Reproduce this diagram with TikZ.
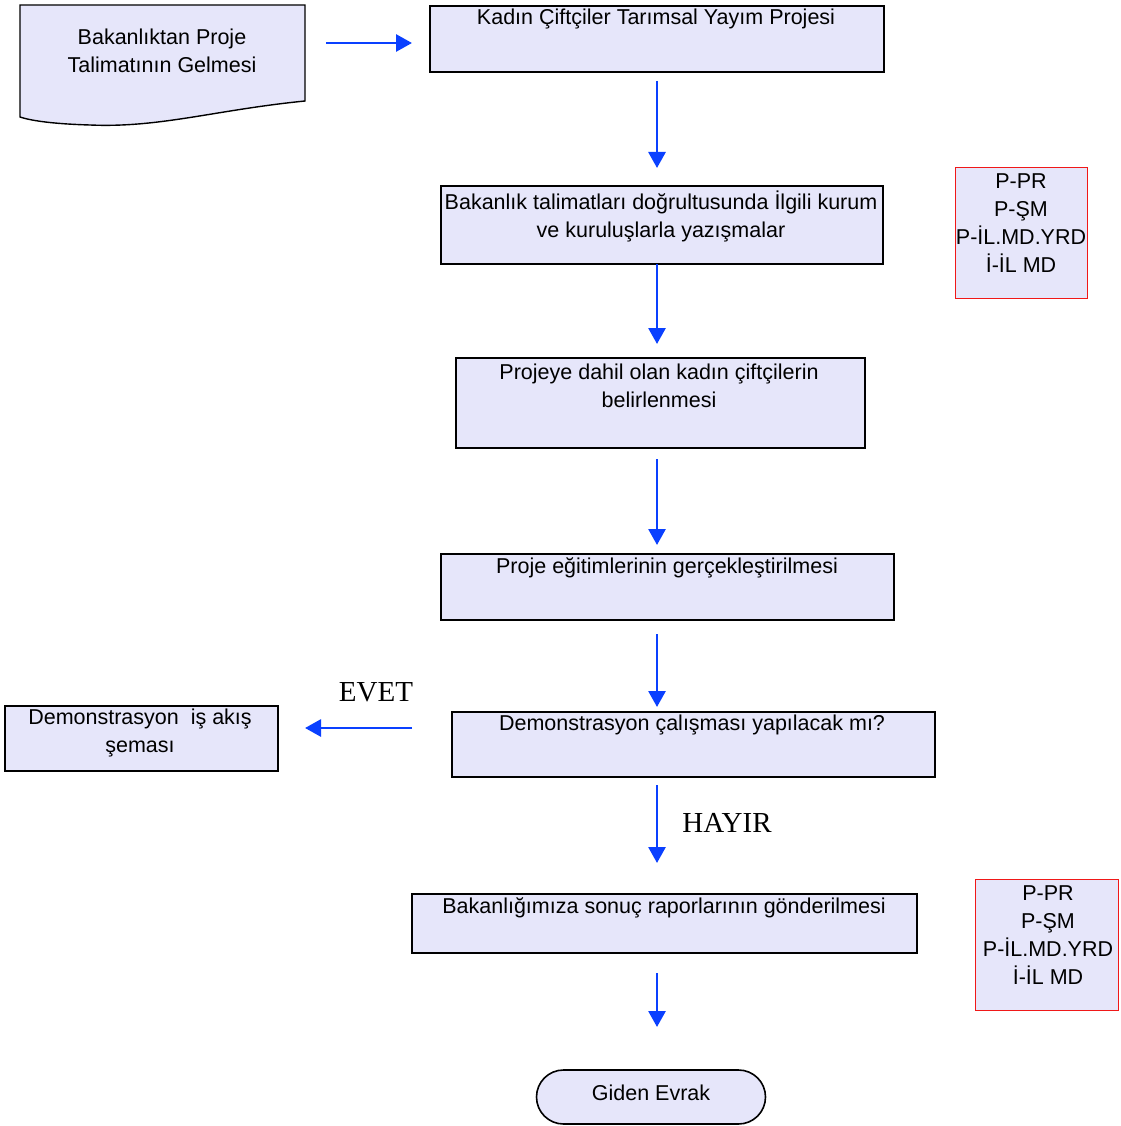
\documentclass[tikz,border=0pt]{standalone}
\usepackage{fontspec}
\setmainfont{Liberation Sans}
\newfontfamily\evetfont{Liberation Serif}
\usetikzlibrary{arrows.meta}
\definecolor{boxfill}{HTML}{E6E6FA}
\definecolor{arrblue}{HTML}{0A40FF}
\definecolor{redline}{HTML}{F01818}
\begin{document}
\begin{tikzpicture}[x=1pt,y=-1pt,
  box/.style={draw=black,line width=1.6pt,fill=boxfill,inner sep=0pt,anchor=north west},
  redbox/.style={draw=redline,line width=1.4pt,fill=boxfill,inner sep=0pt,anchor=north west},
  txt/.style={font=\fontsize{21.5}{28}\selectfont,align=center,inner sep=0pt,text=black},
  lbl/.style={font=\evetfont\fontsize{29}{32}\selectfont,inner sep=0pt},
  arr/.style={draw=arrblue,line width=2.8pt,-{Triangle[length=16pt,width=17pt]}}]
\useasboundingbox (0,0) rectangle (1120,1126);

% document shape
\draw[black,line width=1.4pt,fill=boxfill] (20,5) -- (305,5) -- (305,101)
  .. controls (215,110) and (160,128) .. (90,125)
  .. controls (55,124) and (32,121) .. (20,117) -- cycle;
\node[txt] (doc) at (162,51) {Bakanlıktan Proje\\Talimatının Gelmesi};

% boxes
\node[box,minimum width=454,minimum height=66] (b1) at (429,5) {};
\node[txt] (t1) at (656,19) {Kadın Çiftçiler Tarımsal Yayım Projesi};

\node[box,minimum width=442,minimum height=78] (b2) at (440,185) {};
\node[txt] (t2) at (661,216) {Bakanlık talimatları doğrultusunda İlgili kurum\\ve kuruluşlarla yazışmalar};

\node[redbox,minimum width=132,minimum height=131] (r1) at (955,167) {};
\node[txt] (rt1) at (1021,223) {P-PR\\P-ŞM\\P-İL.MD.YRD\\İ-İL MD};

\node[box,minimum width=409,minimum height=90] (b3) at (455,357) {};
\node[txt] (t3) at (659,386) {Projeye dahil olan kadın çiftçilerin\\belirlenmesi};

\node[box,minimum width=453,minimum height=66] (b4) at (440,553) {};
\node[txt] (t4) at (667,568) {Proje eğitimlerinin gerçekleştirilmesi};

\node[box,minimum width=483,minimum height=65] (b5) at (451,711) {};
\node[txt] (t5) at (692,725) {Demonstrasyon çalışması yapılacak mı?};

\node[box,minimum width=273,minimum height=65] (b6) at (4,705) {};
\node[txt] (t6) at (140,733) {Demonstrasyon\ \ iş akış\\şeması};

\node[box,minimum width=505,minimum height=59] (b7) at (411,893) {};
\node[txt] (t7) at (664,908) {Bakanlığımıza sonuç raporlarının gönderilmesi};

\node[redbox,minimum width=143,minimum height=131] (r2) at (975,879) {};
\node[txt] (rt2) at (1048,935) {P-PR\\P-ŞM\\P-İL.MD.YRD\\İ-İL MD};

\node[draw=black,line width=1.6pt,fill=boxfill,minimum width=229,minimum height=54,
  rounded corners=27pt,inner sep=0pt] (term) at (651,1097) {};
\node[txt] (tt) at (651,1093) {Giden Evrak};

% labels
\node[lbl] (evet) at (376,692) {EVET};
\node[lbl] (hayir) at (727,823) {HAYIR};

% arrow end points
\coordinate (h1s) at (326,43);  \coordinate (h1e) at (412,43);
\coordinate (v1s) at (657,81);  \coordinate (v1e) at (657,168);
\coordinate (v2s) at (657,264); \coordinate (v2e) at (657,344);
\coordinate (v3s) at (657,459); \coordinate (v3e) at (657,545);
\coordinate (v4s) at (657,634); \coordinate (v4e) at (657,707);
\coordinate (v5s) at (657,785); \coordinate (v5e) at (657,863);
\coordinate (v6s) at (657,973); \coordinate (v6e) at (657,1027);
\coordinate (e1s) at (412,728); \coordinate (e1e) at (305,728);

\draw[arr] (h1s) -- (h1e);
\draw[arr] (v1s) -- (v1e);
\draw[arr] (v2s) -- (v2e);
\draw[arr] (v3s) -- (v3e);
\draw[arr] (v4s) -- (v4e);
\draw[arr] (v5s) -- (v5e);
\draw[arr] (v6s) -- (v6e);
\draw[arr] (e1s) -- (e1e);
\end{tikzpicture}
\end{document}
